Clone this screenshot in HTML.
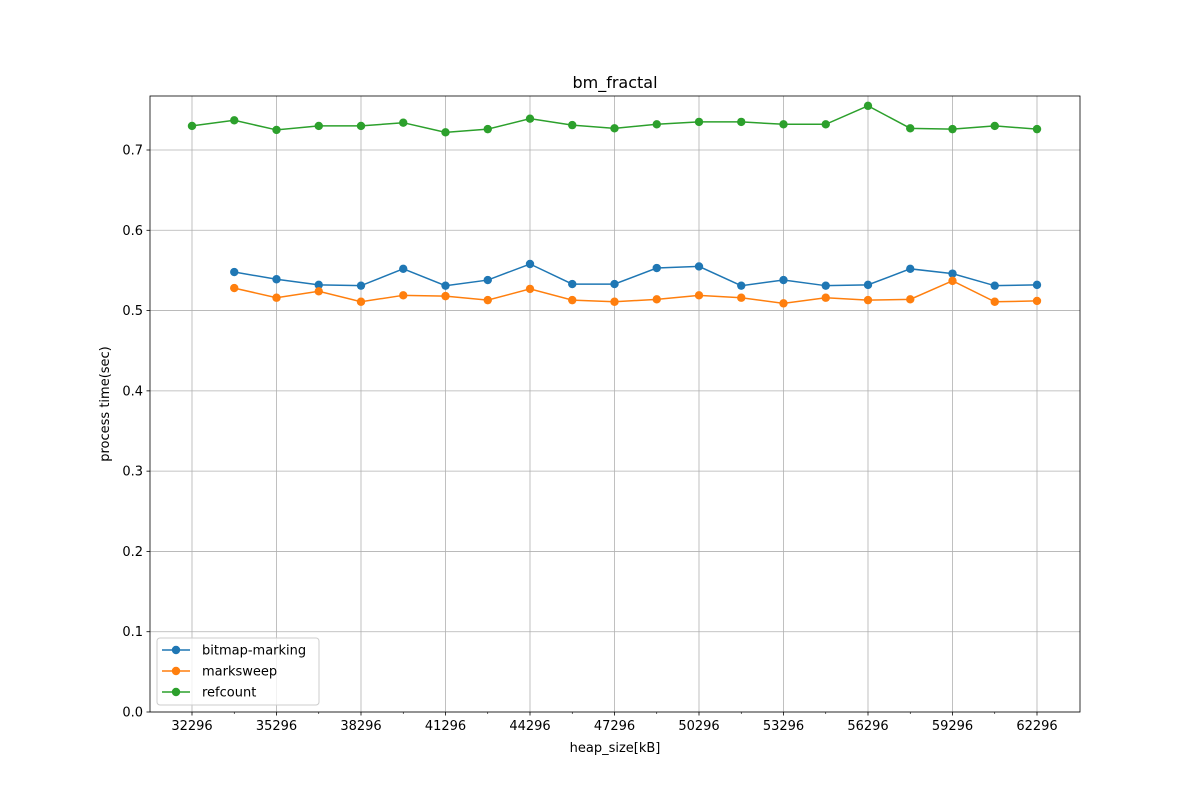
<!DOCTYPE html>
<html><head><meta charset="utf-8"><style>
body{margin:0;background:#fff;}
svg text{font-family:"DejaVu Sans","Liberation Sans",sans-serif;fill:#000;}
</style></head><body>
<svg id="chart" width="1200" height="800" xmlns="http://www.w3.org/2000/svg">
<rect width="1200" height="800" fill="#fff"/>
<g id="grid"></g><g id="axes"></g><g id="series"></g><g id="legend"></g>
</svg>
<script>
const heapSizes = [32296,33796,35296,36796,38296,39796,41296,42796,44296,45796,47296,48796,50296,51796,53296,54796,56296,57796,59296,60796,62296];
const refcount = [0.730,0.737,0.725,0.730,0.730,0.734,0.722,0.726,0.739,0.731,0.727,0.732,0.735,0.735,0.732,0.732,0.755,0.727,0.726,0.730,0.726];
const bitmapMarking = [null,0.548,0.539,0.532,0.531,0.552,0.531,0.538,0.558,0.533,0.533,0.553,0.555,0.531,0.538,0.531,0.532,0.552,0.546,0.531,0.532];
const marksweep = [null,0.528,0.516,0.524,0.511,0.519,0.518,0.513,0.527,0.513,0.511,0.514,0.519,0.516,0.509,0.516,0.513,0.514,0.537,0.511,0.512];
const yTicks = [0,0.1,0.2,0.3,0.4,0.5,0.6,0.7];
const xTickLabels = [32296,35296,38296,41296,44296,47296,50296,53296,56296,59296,62296];
const xMinorTicks = [33796,36796,39796,42796,45796,48796,51796,54796,57796,60796];

const NS="http://www.w3.org/2000/svg";
const L=150,R=1080,T=96,B=712;
const xs=v=>192+(v-32296)*(1037-192)/30000;
const ys=v=>B-v*(B-150)/0.7;
function mk(tag,attrs,parent){const e=document.createElementNS(NS,tag);for(const k in attrs)e.setAttribute(k,attrs[k]);parent.appendChild(e);return e;}
const grid=document.getElementById('grid'),axes=document.getElementById('axes'),ser=document.getElementById('series'),leg=document.getElementById('legend');

yTicks.forEach(v=>{const y=ys(v);
 const g=mk('line',{x1:L,x2:R,y1:y,y2:y,stroke:'#b0b0b0','stroke-width':0.8},grid);
 
 
 mk('line',{x1:L-3.5,x2:L,y1:y,y2:y,stroke:'#000','stroke-width':0.8},axes);
 const t=mk('text',{x:L-7,y:y+4.5,'text-anchor':'end','font-size':13},axes);t.textContent=v.toFixed(1);
 
 
});
xTickLabels.forEach(v=>{const x=xs(v);
 const g=mk('line',{x1:x,x2:x,y1:T,y2:B,stroke:'#b0b0b0','stroke-width':0.8},grid);
 
 
 mk('line',{x1:x,x2:x,y1:B,y2:B+3.5,stroke:'#000','stroke-width':0.8},axes);
 const t=mk('text',{x:x,y:B+18,'text-anchor':'middle','font-size':13},axes);t.textContent=v;
 
 
});
xMinorTicks.forEach(v=>{const x=xs(v);mk('line',{x1:x,x2:x,y1:B,y2:B+2,stroke:'#000','stroke-width':0.6},axes);});
const fr=mk('rect',{x:L,y:T,width:R-L,height:B-T,fill:'none',stroke:'#000','stroke-width':0.8},axes);


let t=mk('text',{x:615,y:88,'text-anchor':'middle','font-size':16},axes);t.textContent='bm_fractal';


t=mk('text',{x:615,y:752,'text-anchor':'middle','font-size':13},axes);t.textContent='heap_size[kB]';


t=mk('text',{x:0,y:0,'text-anchor':'middle','font-size':13,transform:'translate(109,404) rotate(-90)'},axes);t.textContent='process time(sec)';



const series=[['bitmap-marking',bitmapMarking,'#1f77b4'],['marksweep',marksweep,'#ff7f0e'],['refcount',refcount,'#2ca02c']];
series.forEach(([name,vals,c])=>{
 const pts=[];vals.forEach((v,i)=>{if(v!=null)pts.push([xs(heapSizes[i]),ys(v)]);});
 const p=mk('polyline',{points:pts.map(p=>p.join(',')).join(' '),fill:'none',stroke:c,'stroke-width':1.5},ser);
 
 
 pts.forEach(q=>{const m=mk('circle',{cx:q[0],cy:q[1],r:4.2,fill:c},ser);
  
  });
});
const lb=mk('rect',{x:157,y:638,width:162,height:67,rx:3,fill:'#fff','fill-opacity':0.8,stroke:'#ccc'},leg);


series.forEach(([name,,c],i)=>{const y=650+i*21;
 mk('line',{x1:162,x2:190,y1:y,y2:y,stroke:c,'stroke-width':1.5},leg);
 mk('circle',{cx:176,cy:y,r:4.2,fill:c},leg);
 const tt=mk('text',{x:202,y:y+4.5,'font-size':13},leg);tt.textContent=name;
 
 
});
</script>
</body></html>
